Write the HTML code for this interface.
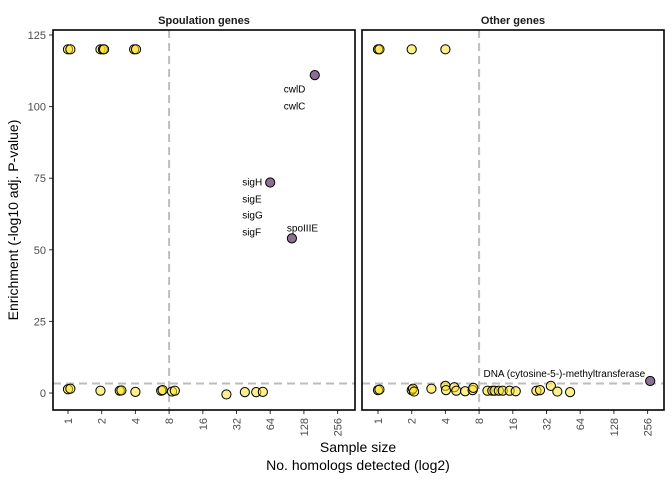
<!DOCTYPE html>
<html><head><meta charset="utf-8"><style>
body{margin:0;background:#fff}
svg{display:block;font-family:"Liberation Sans",Arial,sans-serif}
</style></head><body>
<svg id="chart" width="672" height="480" viewBox="0 0 672 480">
<g id="g"></g>
</svg>
<script>
// Data
const leftTopX = [1, 1.05, 1.95, 2.05, 2.1, 3.9, 4.05];
const leftTopY = [120, 120, 120, 120, 120, 120, 120];
const leftBotX = [1, 1.05, 1.95, 2.9, 3, 4, 6.8, 7, 8.5, 9, 26, 38, 48, 55];
const leftBotY = [1.3, 1.5, 0.8, 0.8, 0.9, 0.4, 0.8, 1, 0.5, 0.8, -0.5, 0.3, 0.3, 0.4];
const leftHitX = [160, 64, 100];
const leftHitY = [111, 73.5, 54];
const leftLabels = ["cwlD","cwlC","sigH","sigE","sigG","sigF","spoIIIE"];
const leftLabelX = [160, 160, 64, 64, 64, 64, 100];
const leftLabelY = [106, 100, 73.5, 67.5, 62, 56, 57.5];
const rightTopX = [1, 1.03, 2, 4];
const rightTopY = [120, 120, 120, 120];
const rightBotX = [1, 1.03, 2, 2.05, 2.1, 3, 4, 4.05, 4.8, 5, 6, 7, 7.1, 9.5, 10.5, 11, 12, 13, 15, 17, 26, 28, 35, 40, 52];
const rightBotY = [1, 1.2, 1, 1.5, 0.5, 1.5, 2.5, 1, 2, 0.8, 0.6, 1, 1.8, 0.8, 0.8, 0.8, 0.8, 0.8, 0.8, 0.6, 0.8, 1, 2.5, 0.5, 0.3];
const rightHitX = [270];
const rightHitY = [4.2];
const xTicks = [1, 2, 4, 8, 16, 32, 64, 128, 256];
const yTicks = [0, 25, 50, 75, 100, 125];
const hLine = 3.3, vLine = 8;

const NS = "http://www.w3.org/2000/svg";
const g = document.getElementById("g");
function el(t, a, p){const e=document.createElementNS(NS,t);for(const k in a)e.setAttribute(k,a[k]);(p||g).appendChild(e);return e;}
const yS = v => 393 - v * 2.864;
const panels = [{x0:53,x1:355,one:68,title:"Spoulation genes",name:"spoulation"},{x0:362,x1:664,one:378,title:"Other genes",name:"other"}];
const UNIT = 33.7;

panels.forEach((p, pi) => {
  const xS = v => p.one + UNIT * Math.log2(v);
  const pg = el("g", {});
  
  
  const st = el("text", {x:(p.x0+p.x1)/2, y:24, "text-anchor":"middle", "font-size":"11", "font-weight":"bold", fill:"#1a1a1a"}, pg);
  st.textContent = p.title;
  
  
  el("line",{x1:p.x0,x2:p.x1,y1:yS(hLine),y2:yS(hLine),stroke:"#bdbdbd","stroke-width":2,"stroke-dasharray":"8,5"},pg);
  el("line",{x1:xS(vLine),x2:xS(vLine),y1:30,y2:410,stroke:"#bdbdbd","stroke-width":2,"stroke-dasharray":"8,5"},pg);
  xTicks.forEach(t => {
    const x = xS(t);
    el("line",{x1:x,x2:x,y1:410,y2:414,stroke:"#333"},pg);
    const tx = el("text",{x:0,y:0,transform:`translate(${x+4},418) rotate(-90)`,"text-anchor":"end","font-size":"11",fill:"#4d4d4d"},pg);
    tx.textContent = t;
    
    
  });
  if (pi === 0) {
    yTicks.forEach(t => {
      const y = yS(t);
      el("line",{x1:49,x2:53,y1:y,y2:y,stroke:"#333"},pg);
      const ty = el("text",{x:46,y:y+4,"text-anchor":"end","font-size":"11",fill:"#4d4d4d"},pg);
      ty.textContent = t;
      
      
    });
  }
  const dot = (x, y, hit) => {
    const c = el("circle",{cx:xS(x),cy:yS(y),r:4.6,fill:hit?"#8c6f94":"rgba(253,228,40,0.55)",stroke:"#000","stroke-width":1},pg);
    
    
  };
  const tx = pi===0 ? [leftTopX,leftBotX] : [rightTopX,rightBotX];
  const ty = pi===0 ? [leftTopY,leftBotY] : [rightTopY,rightBotY];
  tx.forEach((arr, k) => arr.forEach((v, i) => dot(v, ty[k][i], false)));
  const hx = pi===0 ? leftHitX : rightHitX, hy = pi===0 ? leftHitY : rightHitY;
  hx.forEach((v, i) => dot(v, hy[i], true));
  if (pi === 0) {
    leftLabels.forEach((s, i) => {
      const isSpo = s === "spoIIIE";
      const x = isSpo ? xS(leftLabelX[i]) - 5 : (i < 2 ? xS(leftLabelX[i]) - 31 : xS(leftLabelX[i]) - 28);
      const l = el("text",{x:x,y:yS(leftLabelY[i])+3,"font-size":"10",fill:"#000"},pg);
      l.textContent = s;
      
      
    });
  } else {
    const l = el("text",{x:xS(rightHitX[0])-5,y:yS(rightHitY[0])-4,"text-anchor":"end","font-size":"10",fill:"#000"},pg);
    l.textContent = "DNA (cytosine-5-)-methyltransferase";
    
    
  }
  el("rect",{x:p.x0,y:30,width:p.x1-p.x0,height:380,fill:"none",stroke:"#000","stroke-width":1.6},pg);
});
const yt = el("text",{x:0,y:0,transform:"translate(18,220) rotate(-90)","text-anchor":"middle","font-size":"14",fill:"#000"});
yt.textContent = "Enrichment (-log10 adj. P-value)";


const xt1 = el("text",{x:358,y:452,"text-anchor":"middle","font-size":"14",fill:"#000"});
xt1.textContent = "Sample size";


const xt2 = el("text",{x:358,y:470,"text-anchor":"middle","font-size":"14",fill:"#000"});
xt2.textContent = "No. homologs detected (log2)";


</script>
</body></html>
